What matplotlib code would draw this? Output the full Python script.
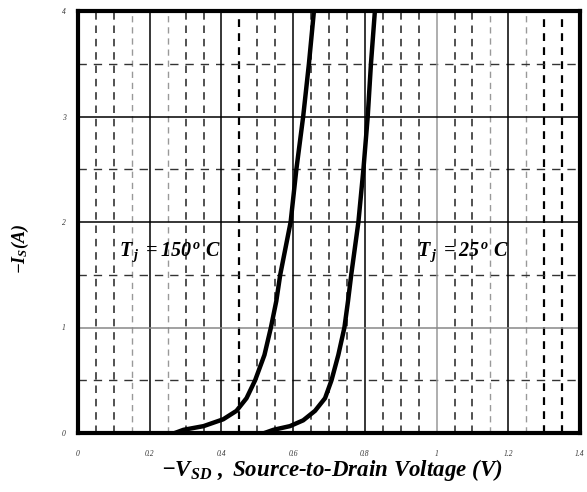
import matplotlib
matplotlib.use("Agg")
import matplotlib.pyplot as plt
import numpy as np

plt.rcParams['mathtext.fontset'] = 'custom'
plt.rcParams['mathtext.rm'] = 'Liberation Serif:bold:italic'
plt.rcParams['mathtext.it'] = 'Liberation Serif:bold:italic'
plt.rcParams['mathtext.bf'] = 'Liberation Serif:bold:italic'

# Data
is_hot = [0.0, 0.03, 0.065, 0.13, 0.21, 0.33, 0.5, 0.74, 1.0, 1.25, 1.5, 2.0, 2.5, 3.0, 3.5, 4.0]
vsd_hot = [0.27, 0.294, 0.35, 0.405, 0.442, 0.470, 0.494, 0.520, 0.538, 0.553, 0.564, 0.593, 0.609, 0.628, 0.644, 0.658]
is_cold = [0.0, 0.03, 0.065, 0.12, 0.21, 0.33, 0.5, 0.74, 1.0, 1.25, 1.5, 2.0, 2.5, 3.0, 3.5, 4.0]
vsd_cold = [0.52, 0.545, 0.591, 0.628, 0.661, 0.689, 0.707, 0.726, 0.743, 0.753, 0.762, 0.782, 0.796, 0.808, 0.817, 0.828]
xticks = [0, 0.2, 0.4, 0.6, 0.8, 1.0, 1.2, 1.4]
xticklabels = ['0', '0.2', '0.4', '0.6', '0.8', '1', '1.2', '1.4']
yticks = [0, 1, 2, 3, 4]
yticklabels = ['0', '1', '2', '3', '4']
label_hot = r'$T_{\,j}\ {=}150^{\,o}\ C$'
label_cold = r'$T_{\,j}\ {=}25^{\,o}\ C$'

fig = plt.figure(figsize=(5.87, 4.92), dpi=100)
ax = fig.add_axes([78/587, 1-433/492, 502/587, 422/492])
ax.set_xlim(0, 1.4)
ax.set_ylim(0, 4)

# minor dashed verticals
minor_x = [round(0.05*i, 2) for i in range(1, 28) if i % 4 != 0]
gray_x = {0.15, 0.25, 1.15, 1.25}
thick_x = {0.45, 1.3, 1.35}
vdash = (0, (4.5, 3.5))
for xv in minor_x:
    if xv in thick_x:
        ax.axvline(xv, color='black', lw=1.6, ls=(0, (3.5, 2.8)), zorder=1)
    elif xv in gray_x:
        ax.axvline(xv, color='#999999', lw=1.0, ls=vdash, zorder=1)
    else:
        ax.axvline(xv, color='#333333', lw=1.2, ls=vdash, zorder=1)
# minor dashed horizontals
for yv in [0.5, 1.5, 2.5, 3.5]:
    ax.axhline(yv, color='#333333', lw=1.0, ls=(0, (6, 5)), zorder=1)
# major solid grid
for xv in [0.2, 0.4, 0.6, 0.8, 1.0, 1.2]:
    ax.axvline(xv, color='#999999' if xv == 1.0 else 'black', lw=1.1, zorder=2)
for yv in [1, 2, 3]:
    ax.axhline(yv, color='#888888' if yv == 1 else 'black', lw=1.1, zorder=2)

ax.plot(vsd_hot, is_hot, color='black', lw=3.2, zorder=3, solid_joinstyle='round')
ax.plot(vsd_cold, is_cold, color='black', lw=3.2, zorder=3, solid_joinstyle='round')

for s in ax.spines.values():
    s.set_linewidth(3)
ax.set_xticks(xticks)
ax.set_xticklabels(xticklabels)
ax.set_yticks(yticks)
ax.set_yticklabels(yticklabels)
ax.tick_params(length=0, labelsize=5.5, labelcolor='#333333')
ax.tick_params(axis='x', pad=12)
ax.tick_params(axis='y', pad=9)
for lab in ax.get_xticklabels() + ax.get_yticklabels():
    lab.set_fontfamily('Liberation Serif')
    lab.set_fontstyle('italic')

ax.text(0.115, 1.68, label_hot, fontsize=14.5, zorder=4)
ax.text(0.945, 1.68, label_cold, fontsize=14.5, zorder=4)

fig.text(20/587, 1-249/492, r'$-I_S(A)$', rotation=90, fontsize=13,
         ha='center', va='center')
fig.text(332/587, 1-470/492, r'$-V_{SD}\ ,\ Source\text{-}to\text{-}Drain\ Voltage\ (V)$',
         fontsize=16.5, ha='center', va='center')

fig.savefig('out.png', dpi=100)
